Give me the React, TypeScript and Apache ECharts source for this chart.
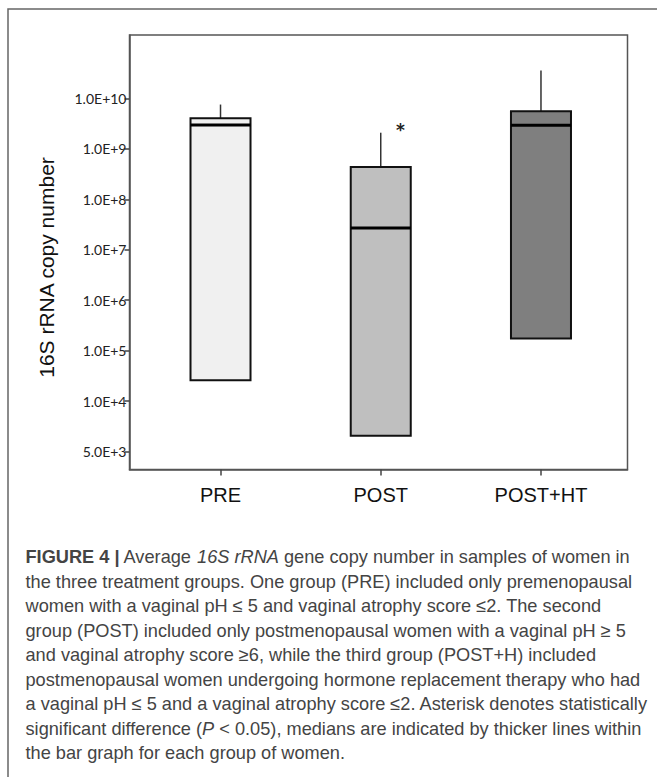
import React, { useEffect, useRef } from "react";
import * as echarts from "echarts";

// ---- data ----
const groups = ["PRE", "POST", "POST+HT"];
const whiskerTop = [7.6e9, 2.1e9, 3.6e10];
const boxTop = [4.05e9, 4.4e8, 5.6e9];
const medians = [3.0e9, 2.7e7, 2.95e9];
const boxBottom = [2.6e4, 6.2e3, 1.75e5];
const fills = ["#f0f0f0", "#bfbfbf", "#7f7f7f"];
const yTickValues = [5e3, 1e4, 1e5, 1e6, 1e7, 1e8, 1e9, 1e10];
const yTickLabels = ["5.0E+3", "1.0E+4", "1.0E+5", "1.0E+6", "1.0E+7", "1.0E+8", "1.0E+9", "1.0E+10"];
const asteriskGroup = 1;
const asteriskValue = 2.8e9;

const captionLines = [
  "{b|FIGURE 4 |} Average {i|16S rRNA} gene copy number in samples of women in",
  "the three treatment groups. One group (PRE) included only premenopausal",
  "women with a vaginal pH ≤ 5 and vaginal atrophy score ≤2. The second",
  "group (POST) included only postmenopausal women with a vaginal pH ≥ 5",
  "and vaginal atrophy score ≥6, while the third group (POST+H) included",
  "postmenopausal women undergoing hormone replacement therapy who had",
  "a vaginal pH ≤ 5 and a vaginal atrophy score ≤2. Asterisk denotes statistically",
  "significant difference ({i|P} < 0.05), medians are indicated by thicker lines within",
  "the bar graph for each group of women.",
];

// The reference axis places its tick labels at equal spacing; values are mapped
// piecewise-logarithmically between consecutive tick values.
function toPos(v: number): number {
  const t = yTickValues;
  let i = 0;
  while (i < t.length - 2 && v > t[i + 1]) i++;
  return i + Math.log(v / t[i]) / Math.log(t[i + 1] / t[i]);
}

export default function App() {
  const ref = useRef<HTMLDivElement>(null);
  useEffect(() => {
    if (!ref.current) return;
    const chart = echarts.init(ref.current, null, { renderer: "svg" });
    const boxWidth = 0.3745;
    const boxData = groups.map((g, i) => [
      i + 1,
      toPos(whiskerTop[i]),
      toPos(boxTop[i]),
      toPos(medians[i]),
      toPos(boxBottom[i]),
    ]);
    const capFont = "Liberation Sans";
    const capSize = 18.2;
    const captionRich = {
      b: { fontFamily: capFont, fontWeight: "bold", fontSize: capSize, color: "#222" },
      i: { fontFamily: capFont, fontStyle: "italic", fontSize: capSize, color: "#444" },
    };
    const option: any = {
      animation: false,
      backgroundColor: "#ffffff",
      grid: {
        left: 129.5,
        top: 35,
        width: 498,
        height: 434.5,
        show: true,
        borderColor: "#555",
        borderWidth: 1.5,
        backgroundColor: "transparent",
      },
      xAxis: {
        type: "value",
        min: 0.432,
        max: 3.54,
        splitLine: { show: false },
        axisLine: { show: true, onZero: false, lineStyle: { color: "#555", width: 1.5 } },
        axisTick: { show: true, length: 6, customValues: [1, 2, 3], lineStyle: { color: "#444", width: 1.5 } },
        axisLabel: {
          customValues: [1, 2, 3],
          formatter: (v: number) => groups[Math.round(v) - 1] ?? "",
          fontFamily: "Liberation Sans",
          fontSize: 20,
          color: "#111",
          margin: 15,
        },
      },
      yAxis: {
        type: "value",
        min: -0.357,
        max: 8.26,
        splitLine: { show: false },
        axisLine: { show: true, onZero: false, lineStyle: { color: "#555", width: 1.5 } },
        axisTick: { show: true, length: 5, customValues: [0, 1, 2, 3, 4, 5, 6, 7], lineStyle: { color: "#444", width: 1.5 } },
        axisLabel: {
          customValues: [0, 1, 2, 3, 4, 5, 6, 7],
          formatter: (v: number) => yTickLabels[Math.round(v)] ?? "",
          fontFamily: "Lato",
          fontSize: 14,
          color: "#222",
          margin: 3,
        },
      },
      series: [
        {
          type: "custom",
          data: boxData,
          encode: { x: 0, y: [1, 2, 3, 4] },
          renderItem: (params: any, api: any) => {
            const x = api.value(0);
            const pW = api.coord([x, api.value(1)]);
            const pT = api.coord([x, api.value(2)]);
            const pM = api.coord([x, api.value(3)]);
            const pB = api.coord([x, api.value(4)]);
            const half = api.size([boxWidth, 0])[0] / 2;
            return {
              type: "group",
              children: [
                { type: "line", shape: { x1: pW[0], y1: pW[1], x2: pT[0], y2: pT[1] }, style: { stroke: "#333", lineWidth: 1.5 } },
                {
                  type: "rect",
                  shape: { x: pT[0] - half, y: pT[1], width: half * 2, height: pB[1] - pT[1] },
                  style: { fill: fills[params.dataIndex], stroke: "#111", lineWidth: 2 },
                },
                { type: "line", shape: { x1: pM[0] - half, y1: pM[1], x2: pM[0] + half, y2: pM[1] }, style: { stroke: "#000", lineWidth: 3 } },
              ],
            };
          },
        },
        {
          type: "custom",
          data: [[asteriskGroup + 1 + 0.123, toPos(asteriskValue)]],
          renderItem: (params: any, api: any) => {
            const p = api.coord([api.value(0), api.value(1)]);
            return {
              type: "text",
              x: p[0],
              y: p[1] + 4,
              style: { text: "*", fontFamily: "DejaVu Sans", fontWeight: "bold", fontSize: 17, fill: "#222", align: "center", verticalAlign: "middle" },
            };
          },
        },
      ],
      graphic: [
        { type: "rect", shape: { x: 8, y: 9, width: 700, height: 800 }, style: { fill: "none", stroke: "#666", lineWidth: 1.5 }, silent: true },
        {
          type: "text",
          x: 46,
          y: 267.5,
          rotation: Math.PI / 2,
          style: { text: "16S rRNA copy number", fontFamily: "Liberation Sans", fontSize: 21, fill: "#111", align: "center", verticalAlign: "middle" },
        },
        ...captionLines.map((line, k) => ({
          type: "text",
          x: 25.5,
          y: 557 + k * 24.5,
          style: {
            text: line,
            rich: captionRich,
            fontFamily: capFont,
            fontSize: capSize,
            fill: "#444",
            align: "left",
            verticalAlign: "middle",
          },
        })),
      ],
    };
    chart.setOption(option);
    return () => chart.dispose();
  }, []);
  return <div ref={ref} style={{ position: "fixed", left: 0, top: 0, width: 657, height: 777 }} />;
}
